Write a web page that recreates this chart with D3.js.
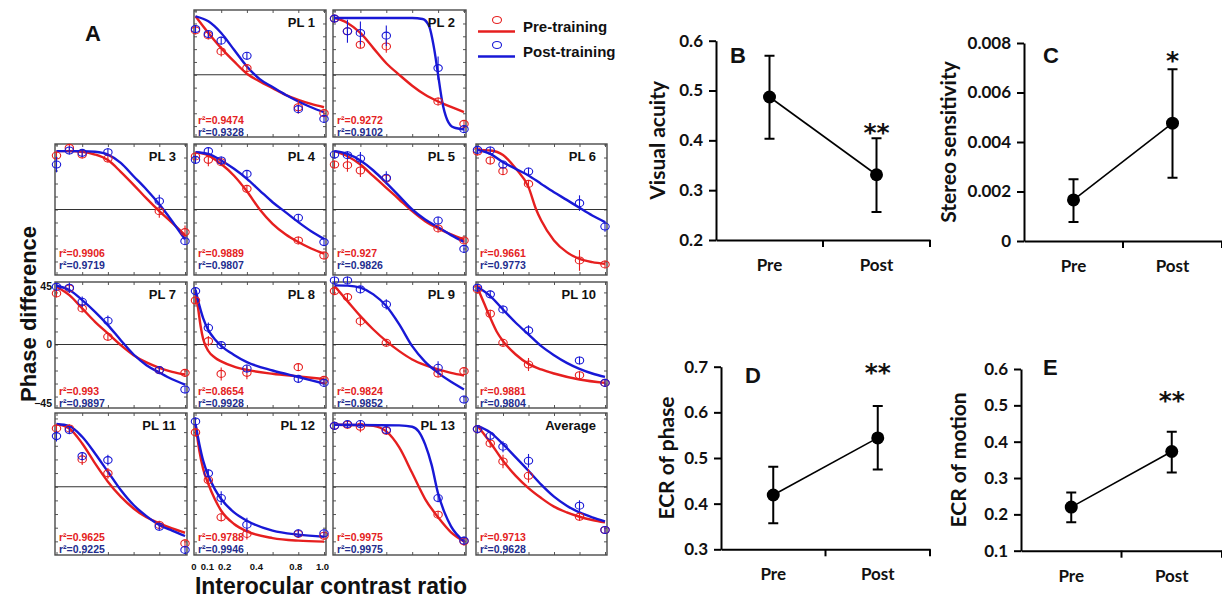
<!DOCTYPE html>
<html>
<head>
<meta charset="utf-8">
<script src="https://cdn.jsdelivr.net/npm/d3@7"></script>
<style>
body { margin: 0; background: #fff; }
svg { display: block; }
</style>
</head>
<body>
<script>
// ---- panel A data: phase difference (deg) vs interocular contrast ratio ----
const panelNames = ["PL 1", "PL 2", "PL 3", "PL 4", "PL 5", "PL 6", "PL 7", "PL 8", "PL 9", "PL 10", "PL 11", "PL 12", "PL 13", "Average"];
const contrastRatios = [0, 0.1, 0.2, 0.4, 0.8, 1.0];
const ratioTickLabels = ["0", "0.1", "0.2", "0.4", "0.8", "1.0"];
const phaseTicks = [45, 0, -45];

const prePhase = [
    [34.6, 30.7, 18.2, 5.2, -25.3, -29.9],
    [43.8, 33.9, 23.4, 22.1, -20.8, -38.3],
    [41.5, 47.4, 42.3, 39.2, -1.3, -17.4],
    [40.8, 38.2, 36.4, 15.9, -23.8, -35.4],
    [34.6, 34.1, 30.0, 23.8, -14.6, -23.8],
    [44.6, 37.7, 29.5, 19.7, -39.2, -42.3],
    [39.2, 43.1, 27.7, 5.9, -19.7, -21.8],
    [33.8, 2.6, -22.6, -21.8, -17.4, -27.2],
    [41.0, 36.4, 17.9, 1.3, -22.3, -20.5],
    [42.3, 23.6, 1.3, -15.4, -23.6, -29.5],
    [42.7, 42.7, 20.0, 9.8, -28.0, -41.5],
    [39.8, 4.9, -22.4, -34.6, -34.6, -35.9],
    [44.6, 45.4, 43.9, 41.0, -20.5, -40.0],
    [42.2, 31.7, 18.5, 8.0, -22.0, -31.7]
];
const postPhase = [
    [35.7, 31.8, 26.6, 14.8, -26.8, -34.4],
    [43.8, 33.9, 32.6, 30.5, 5.2, -42.4],
    [34.6, 45.4, 43.6, 44.1, 6.4, -24.4],
    [38.2, 44.9, 37.7, 27.4, -6.4, -25.1],
    [42.3, 41.8, 39.2, 24.4, -8.5, -30.3],
    [45.9, 45.4, 34.6, 29.2, 4.9, -13.1],
    [44.4, 43.6, 32.8, 18.2, -19.7, -34.6],
    [41.0, 12.8, -0.5, -18.5, -26.4, -29.5],
    [49.2, 49.2, 42.3, 30.8, -17.9, -42.3],
    [43.6, 38.5, 26.9, 10.8, -12.3, -29.5],
    [37.1, 41.5, 22.4, 19.5, -29.3, -46.3],
    [47.8, 9.8, -8.3, -27.8, -34.1, -34.1],
    [44.6, 45.9, 45.9, 41.5, -8.3, -39.5],
    [42.2, 37.3, 29.3, 19.0, -13.9, -31.7]
];
const preErr = [
    [3, 3, 4, 3, 5, 3], [3, 3, 3, 5, 3, 3], [3, 3, 3, 3, 5, 5], [3, 5, 3, 3, 3, 3],
    [3, 5, 5, 3, 3, 3], [3, 3, 3, 3, 8, 3], [3, 3, 3, 3, 3, 3], [3, 4, 5, 5, 3, 3],
    [3, 3, 4, 3, 3, 3], [3, 3, 3, 5, 3, 3], [3, 3, 4, 4, 3, 3], [3, 3, 3, 4, 3, 3],
    [3, 3, 4, 3, 3, 3], [3, 3, 5, 5, 3, 3]
];
const postErr = [
    [3, 3, 3, 3, 3, 3], [3, 9, 9, 8, 9, 3], [6, 3, 3, 3, 5, 3], [3, 3, 3, 3, 3, 3],
    [3, 3, 5, 5, 3, 3], [3, 3, 3, 3, 6, 4], [3, 4, 4, 4, 3, 3], [3, 4, 3, 3, 3, 3],
    [3, 3, 3, 4, 5, 3], [3, 3, 3, 4, 3, 3], [4, 3, 3, 4, 3, 3], [3, 3, 5, 5, 3, 3],
    [3, 3, 3, 3, 3, 3], [3, 3, 4, 5, 4, 3]
];
// fitted curves as [ratio, phase] pairs
const preFit = [
    [[0, 45.6], [.1, 32.6], [.2, 20.8], [.3, 10.4], [.4, 0.8], [.5, -5.2], [.6, -10.4], [.7, -15.6], [.8, -19.5], [.9, -22.7], [1, -25.3]],
    [[0, 44.3], [.1, 40.4], [.2, 32.6], [.3, 20.8], [.4, 9], [.5, 0], [.6, -8.5], [.7, -15.6], [.8, -20.8], [.9, -25], [1, -29]],
    [[0, 44.9], [.1, 44.9], [.2, 44.4], [.3, 42.3], [.4, 38], [.5, 29], [.6, 19], [.7, 8.5], [.8, -1.3], [.9, -10.3], [1, -19.7]],
    [[0, 44.1], [.1, 41.5], [.2, 35], [.3, 26], [.4, 14], [.5, 0], [.6, -11], [.7, -19], [.8, -25], [.9, -30], [1, -34]],
    [[0, 44.9], [.1, 41], [.2, 34.6], [.3, 25.6], [.4, 16.7], [.5, 7.7], [.6, -1.3], [.7, -9], [.8, -14.6], [.9, -19.2], [1, -23.1]],
    [[0, 45.9], [.1, 45.4], [.2, 42], [.3, 31.5], [.4, 17.2], [.46, 0], [.5, -8.5], [.6, -23.8], [.7, -32.8], [.8, -38], [.9, -40.5], [1, -41.8]],
    [[0, 44.4], [.1, 37.9], [.2, 27.7], [.3, 17.4], [.4, 8.5], [.5, -0.5], [.6, -8.2], [.7, -13.8], [.8, -17.9], [.9, -21], [1, -23.1]],
    [[0, 40], [.02, 28], [.04, 14], [.06, 4], [.1, -5], [.15, -10], [.2, -13], [.3, -17], [.4, -19.5], [.6, -22.5], [.8, -24.5], [1, -26.5]],
    [[0, 44.9], [.1, 33.3], [.2, 21.8], [.3, 11.5], [.4, 2.6], [.5, -5.1], [.6, -11.5], [.7, -15.9], [.8, -19.2], [.9, -21.8], [1, -23.8]],
    [[0, 43.6], [.05, 32], [.1, 20.5], [.15, 10], [.2, 2.6], [.3, -7.7], [.4, -14.9], [.5, -19.2], [.6, -22.3], [.8, -26.9], [1, -29.5]],
    [[0, 45.9], [.1, 42.7], [.2, 31.7], [.3, 17.1], [.4, 3.7], [.5, -7.3], [.6, -15.9], [.7, -22.4], [.8, -26.8], [.9, -30.5], [1, -33.7]],
    [[0, 45.9], [.03, 26.3], [.06, 12.9], [.1, 2], [.15, -9], [.2, -17.6], [.3, -27.3], [.4, -32.7], [.6, -37.6], [.8, -39.5], [1, -40.2]],
    [[0, 45.4], [.2, 45.2], [.3, 44.6], [.4, 40.5], [.5, 28.8], [.6, 10], [.7, -9], [.8, -22.4], [.9, -33.4], [1, -40]],
    [[0, 44.6], [.1, 32.4], [.2, 19], [.3, 8], [.4, -1], [.5, -8.3], [.6, -14.6], [.7, -18.8], [.8, -22], [.9, -24.4], [1, -26.1]]
];
const postFit = [
    [[0, 45.6], [.1, 41.7], [.2, 32.6], [.3, 19.5], [.4, 6.5], [.5, -3.4], [.6, -9.6], [.7, -15.6], [.8, -20.8], [.9, -25.3], [1, -29.2]],
    [[0, 44.3], [.6, 44.3], [.68, 43.5], [.73, 38], [.77, 20], [.8, 0], [.83, -20], [.87, -35], [.92, -41], [1, -42.5]],
    [[0, 44.9], [.1, 44.9], [.2, 44.9], [.3, 44.4], [.4, 42.3], [.5, 35.9], [.6, 25.6], [.7, 15.4], [.8, 4], [.9, -9], [1, -23]],
    [[0, 44.1], [.1, 42.8], [.2, 37.7], [.3, 31.3], [.4, 23.6], [.5, 14.6], [.6, 5.6], [.7, -2], [.8, -9.7], [.9, -16.7], [1, -22.6]],
    [[0, 44.9], [.1, 42.8], [.2, 37.7], [.3, 30], [.4, 20.5], [.5, 10.3], [.6, 0], [.7, -7.7], [.8, -13.6], [.9, -19.7], [1, -24.9]],
    [[0, 45.9], [.1, 42.8], [.2, 36.4], [.3, 31.3], [.4, 26.2], [.5, 19.7], [.6, 13.3], [.7, 7.4], [.8, 1.3], [.9, -4.6], [1, -9.7]],
    [[0, 45.1], [.1, 41.8], [.2, 34.1], [.3, 25.1], [.4, 14.9], [.5, 3.3], [.6, -7.7], [.7, -15.9], [.8, -21.5], [.9, -26.7], [1, -30.8]],
    [[0, 42], [.03, 30], [.06, 20], [.1, 11], [.15, 4], [.2, -1], [.3, -8], [.4, -13.5], [.6, -20], [.8, -25], [1, -30]],
    [[0, 45.4], [.1, 45.2], [.2, 43.6], [.3, 38.5], [.4, 29.5], [.5, 15.4], [.6, -1.3], [.7, -13.3], [.8, -21.8], [.9, -28.7], [1, -34.6]],
    [[0, 44.1], [.1, 37.2], [.2, 26.9], [.3, 16.7], [.4, 7.7], [.5, -1.3], [.6, -8.2], [.7, -14.1], [.8, -18.7], [.9, -22.3], [1, -24.9]],
    [[0, 45.9], [.1, 44.4], [.2, 36.6], [.3, 24.4], [.4, 11], [.5, -2.4], [.6, -13.4], [.7, -21.5], [.8, -28], [.9, -32.2], [1, -36.1]],
    [[0, 45.9], [.03, 31.2], [.06, 19], [.1, 8], [.15, -1.7], [.2, -9], [.3, -18.8], [.4, -24.9], [.6, -32.2], [.8, -35.1], [1, -36.6]],
    [[0, 45.4], [.5, 44.9], [.6, 43.9], [.65, 40.5], [.7, 31], [.75, 16], [.8, -5], [.85, -19], [.9, -29], [1, -40]],
    [[0, 44.6], [.1, 39.8], [.2, 31.2], [.3, 21.5], [.4, 11.7], [.5, 1.5], [.6, -7.3], [.7, -13.9], [.8, -18.8], [.9, -22.4], [1, -25.4]]
];
const preR2 = ["0.9474", "0.9272", "0.9906", "0.9889", "0.927", "0.9661", "0.993", "0.8654", "0.9824", "0.9881", "0.9625", "0.9788", "0.9975", "0.9713"];
const postR2 = ["0.9328", "0.9102", "0.9719", "0.9807", "0.9826", "0.9773", "0.9897", "0.9928", "0.9852", "0.9804", "0.9225", "0.9946", "0.9975", "0.9628"];

// ---- panels B-E data ----
const groups = ["Pre", "Post"];
const acuity = [0.487, 0.331], acuityLo = [0.403, 0.256], acuityHi = [0.570, 0.404];
const stereo = [0.00166, 0.00476], stereoLo = [0.00077, 0.00256], stereoHi = [0.0025, 0.00694];
const ecrPhase = [0.419, 0.544], ecrPhaseLo = [0.357, 0.475], ecrPhaseHi = [0.481, 0.614];
const ecrMotion = [0.220, 0.373], ecrMotionLo = [0.178, 0.315], ecrMotionHi = [0.260, 0.427];
const acuityTicks = [0.2, 0.3, 0.4, 0.5, 0.6];
const stereoTicks = [0, 0.002, 0.004, 0.006, 0.008];
const ecrPhaseTicks = [0.3, 0.4, 0.5, 0.6, 0.7];
const ecrMotionTicks = [0.1, 0.2, 0.3, 0.4, 0.5, 0.6];
const sigMarks = ["**", "*", "**", "**"];

const RED = "#e61f1f", BLUE = "#1818d6", RED_TXT = "#e42222", BLUE_TXT = "#232d8e";
const FONT_A = "'Liberation Sans', Arial, sans-serif";
const FONT_B = "Lato, 'Open Sans', sans-serif";

const svg = d3.select("body").append("svg").attr("width", 1222).attr("height", 600);
svg.append("rect").attr("width", 1222).attr("height", 600).attr("fill", "#fff");

// grid of the small phase panels
const colLeft = [55, 194, 333, 476];
const colRight = [187, 326, 466, 607];
const rows = [
    { top: 10, bottom: 137, domain: [-48.5, 50.5], r2: [13, 1] },
    { top: 144, bottom: 275, domain: [-50.4, 50.4], r2: [18, 6] },
    { top: 282, bottom: 408, domain: [-48.8, 48], r2: [13, 1] },
    { top: 413, bottom: 555, domain: [-50, 54], r2: [14, 2] }
];
const panelCell = [[0, 1], [0, 2], [1, 0], [1, 1], [1, 2], [1, 3], [2, 0], [2, 1], [2, 2], [2, 3], [3, 0], [3, 1], [3, 2], [3, 3]];
// the printed ratio labels sit slightly off their ticks, so nudge them apart
const ratioLabelShift = [-2, -1.5, 3, 9, -3, -2];

function styleInnerTicks(g) {
    g.select(".domain").remove();
    g.selectAll(".tick line").attr("stroke", "#555").attr("stroke-width", 1);
}

function drawPhasePanel(i) {
    let [r, c] = panelCell[i];
    let row = rows[r];
    let left = colLeft[c], right = colRight[c];
    let x = d3.scaleLinear([0, 1], [left + 1.5, right - 2]);
    let y = d3.scaleLinear(row.domain, [row.bottom, row.top]);
    let g = svg.append("g").attr("class", "phase-panel");

    let tx = [0, 0.2, 0.4, 0.6, 0.8, 1];
    let ty = d3.range(-40, 51, 10).filter(v => v > row.domain[0] && v < row.domain[1]);
    g.append("g").attr("transform", `translate(0,${row.bottom})`)
        .call(d3.axisBottom(x).tickValues(tx).tickSize(-3).tickFormat("")).call(styleInnerTicks);
    g.append("g").attr("transform", `translate(0,${row.top})`)
        .call(d3.axisTop(x).tickValues(tx).tickSize(-3).tickFormat("")).call(styleInnerTicks);
    g.append("g").attr("transform", `translate(${left},0)`)
        .call(d3.axisLeft(y).tickValues(ty).tickSize(-3).tickFormat("")).call(styleInnerTicks);
    g.append("g").attr("transform", `translate(${right},0)`)
        .call(d3.axisRight(y).tickValues(ty).tickSize(-3).tickFormat("")).call(styleInnerTicks);

    g.append("rect")
        .attr("x", left).attr("y", row.top)
        .attr("width", right - left).attr("height", row.bottom - row.top)
        .attr("fill", "none").attr("stroke", "#4a4a4a").attr("stroke-width", 1.4);
    g.append("line")
        .attr("x1", left).attr("x2", right)
        .attr("y1", y(0)).attr("y2", y(0))
        .attr("stroke", "#333").attr("stroke-width", 1.1);

    let line = d3.line().x(d => x(d[0])).y(d => y(d[1])).curve(d3.curveMonotoneX);
    let series = [
        { fit: preFit[i], pts: prePhase[i], err: preErr[i], color: RED },
        { fit: postFit[i], pts: postPhase[i], err: postErr[i], color: BLUE }
    ];
    series.forEach(s => {
        g.append("path").attr("d", line(s.fit))
            .attr("fill", "none").attr("stroke", s.color).attr("stroke-width", 2.4);
    });
    series.forEach(s => {
        let pts = contrastRatios.map((cr, k) => ({ cr, v: s.pts[k], e: s.err[k] }));
        g.selectAll(null).data(pts).enter().append("line")
            .attr("x1", d => x(d.cr)).attr("x2", d => x(d.cr))
            .attr("y1", d => y(d.v + d.e)).attr("y2", d => y(d.v - d.e))
            .attr("stroke", s.color).attr("stroke-width", 1.1);
        g.selectAll(null).data(pts).enter().append("ellipse")
            .attr("cx", d => x(d.cr)).attr("cy", d => y(d.v))
            .attr("rx", 4.2).attr("ry", 3.5)
            .attr("fill", "none").attr("stroke", s.color).attr("stroke-width", 1.1);
    });

    g.append("text")
        .attr("x", right - 11).attr("y", row.top + 17)
        .attr("text-anchor", "end")
        .style("font", `bold 13px ${FONT_A}`).attr("fill", "#111")
        .text(panelNames[i]);
    g.append("text")
        .attr("x", left + 4).attr("y", row.bottom - row.r2[0])
        .style("font", `bold 10.5px ${FONT_A}`).attr("fill", RED_TXT)
        .text("r\u00b2=" + preR2[i]);
    g.append("text")
        .attr("x", left + 4).attr("y", row.bottom - row.r2[1])
        .style("font", `bold 10.5px ${FONT_A}`).attr("fill", BLUE_TXT)
        .text("r\u00b2=" + postR2[i]);

    // tick labels only on PL 7 (y) and PL 12 (x)
    if (panelNames[i] === "PL 7") {
        let ay = g.append("g").attr("transform", `translate(${left},0)`)
            .call(d3.axisLeft(y).tickValues(phaseTicks).tickSize(0).tickPadding(3));
        ay.select(".domain").remove();
        ay.selectAll("text").style("font", `bold 10.5px ${FONT_A}`).attr("fill", "#111");
    }
    if (panelNames[i] === "PL 12") {
        let ax = g.append("g").attr("transform", `translate(0,${row.bottom})`)
            .call(d3.axisBottom(x).tickValues(contrastRatios).tickFormat((d, k) => ratioTickLabels[k]).tickSize(0).tickPadding(8));
        ax.select(".domain").remove();
        ax.selectAll("text")
            .attr("dx", (d, k) => ratioLabelShift[k])
            .style("font", `bold 9.5px ${FONT_A}`).attr("fill", "#111");
    }
}

panelNames.forEach((_, i) => drawPhasePanel(i));

// legend
const legendItems = [{ label: "Pre-training", color: RED }, { label: "Post-training", color: BLUE }];
const lg = svg.append("g").attr("class", "legend");
legendItems.forEach((d, k) => {
    let y0 = 20 + k * 25;
    lg.append("ellipse").attr("cx", 497).attr("cy", y0).attr("rx", 4.5).attr("ry", 3.5)
        .attr("fill", "none").attr("stroke", d.color).attr("stroke-width", 1.1);
    lg.append("line").attr("x1", 478).attr("x2", 515).attr("y1", y0 + 11.5).attr("y2", y0 + 11.5)
        .attr("stroke", d.color).attr("stroke-width", 2.6);
    lg.append("text").attr("x", 523).attr("y", y0 + 12)
        .style("font", `bold 15px ${FONT_A}`).attr("fill", "#111").text(d.label);
});

svg.append("text").attr("x", 85).attr("y", 41)
    .style("font", `bold 22px ${FONT_A}`).attr("fill", "#111").text("A");
svg.append("text")
    .attr("transform", "translate(36,314) rotate(-90)")
    .attr("text-anchor", "middle")
    .style("font", `bold 22px ${FONT_A}`).attr("fill", "#111")
    .text("Phase difference");
svg.append("text")
    .attr("x", 331).attr("y", 594)
    .attr("text-anchor", "middle")
    .style("font", `bold 23px ${FONT_A}`).attr("fill", "#111")
    .text("Interocular contrast ratio");

// ---- panels B-E ----
function drawSummary(cfg) {
    let y = d3.scaleLinear(d3.extent(cfg.ticks), [cfg.bottom, cfg.top]);
    let x = d3.scaleBand(groups, [cfg.left, cfg.right]);
    let cx = d => x(d) + x.bandwidth() / 2;
    let g = svg.append("g").attr("class", "summary");

    let ay = g.append("g").attr("transform", `translate(${cfg.left},0)`)
        .call(d3.axisLeft(y).tickValues(cfg.ticks).tickFormat(cfg.fmt).tickSize(7).tickSizeOuter(0).tickPadding(6));
    ay.select(".domain").attr("stroke", "#000").attr("stroke-width", 2);
    ay.selectAll(".tick line").attr("stroke", "#000").attr("stroke-width", 2);
    ay.selectAll("text").style("font", `bold 17px ${FONT_B}`).attr("fill", "#111");

    let ax = g.append("g").attr("transform", `translate(0,${cfg.bottom})`)
        .call(d3.axisBottom(x).tickSize(0).tickSizeOuter(0).tickPadding(19));
    ax.select(".domain").attr("stroke", "#000").attr("stroke-width", 2);
    ax.selectAll("text").style("font", `bold 17px ${FONT_B}`).attr("fill", "#111");
    g.selectAll(null).data([x("Post"), cfg.right]).enter().append("line")
        .attr("x1", d => d).attr("x2", d => d)
        .attr("y1", cfg.bottom).attr("y2", cfg.bottom + 7)
        .attr("stroke", "#000").attr("stroke-width", 2);

    let pts = groups.map((k, j) => ({ k, v: cfg.values[j], lo: cfg.lo[j], hi: cfg.hi[j] }));
    g.append("path")
        .attr("d", d3.line().x(d => cx(d.k)).y(d => y(d.v))(pts))
        .attr("fill", "none").attr("stroke", "#000").attr("stroke-width", 1.6);
    g.selectAll(null).data(pts).enter().append("path")
        .attr("d", d => `M${cx(d.k) - 5},${y(d.hi)}H${cx(d.k) + 5}M${cx(d.k)},${y(d.hi)}V${y(d.lo)}M${cx(d.k) - 5},${y(d.lo)}H${cx(d.k) + 5}`)
        .attr("fill", "none").attr("stroke", "#000").attr("stroke-width", 2);
    g.selectAll(null).data(pts).enter().append("circle")
        .attr("cx", d => cx(d.k)).attr("cy", d => y(d.v)).attr("r", 6.5).attr("fill", "#000");

    g.append("text")
        .attr("x", cx("Post")).attr("y", y(cfg.starAt) + 14)
        .attr("text-anchor", "middle")
        .style("font", `bold 25px 'DejaVu Sans', sans-serif`).attr("fill", "#111")
        .text(cfg.mark);
    g.append("text")
        .attr("x", cfg.left + cfg.letter[0]).attr("y", cfg.top + cfg.letter[1])
        .style("font", `bold 22px ${FONT_A}`).attr("fill", "#111")
        .text(cfg.name);
    g.append("text")
        .attr("transform", `translate(${cfg.labelX},${(cfg.top + cfg.bottom) / 2}) rotate(-90)`)
        .attr("text-anchor", "middle")
        .style("font", `bold 21px ${FONT_B}`).attr("fill", "#111")
        .text(cfg.title);
}

const fmt1 = d3.format(".1f");
drawSummary({ name: "B", title: "Visual acuity", values: acuity, lo: acuityLo, hi: acuityHi,
    ticks: acuityTicks, fmt: fmt1, mark: sigMarks[0], starAt: 0.427,
    left: 716, right: 930, top: 40.7, bottom: 240, labelX: 665, letter: [14, 22] });
drawSummary({ name: "C", title: "Stereo sensitivity", values: stereo, lo: stereoLo, hi: stereoHi,
    ticks: stereoTicks, fmt: d => d === 0 ? "0" : d3.format(".3f")(d), mark: sigMarks[1], starAt: 0.0075,
    left: 1024, right: 1222, top: 43, bottom: 241, labelX: 956, letter: [19, 20] });
drawSummary({ name: "D", title: "ECR of phase", values: ecrPhase, lo: ecrPhaseLo, hi: ecrPhaseHi,
    ticks: ecrPhaseTicks, fmt: fmt1, mark: sigMarks[2], starAt: 0.699,
    left: 721, right: 930, top: 366.7, bottom: 549.3, labelX: 674, letter: [24, 16] });
drawSummary({ name: "E", title: "ECR of motion", values: ecrMotion, lo: ecrMotionLo, hi: ecrMotionHi,
    ticks: ecrMotionTicks, fmt: fmt1, mark: sigMarks[3], starAt: 0.529,
    left: 1021, right: 1222, top: 369, bottom: 550.7, labelX: 966, letter: [22, 6] });
</script>
</body>
</html>
